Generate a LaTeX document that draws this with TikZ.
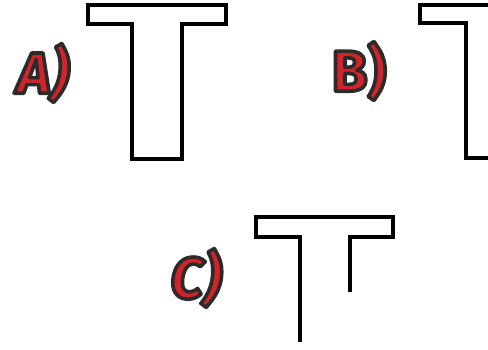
\documentclass[tikz,border=0pt]{standalone}
\usepackage{fontspec}
\usepackage{xcolor}
\usepackage{tikz}
\newfontfamily\handfont{Fira Sans}
\definecolor{markRed}{HTML}{D2232A}
\definecolor{markEdge}{HTML}{2B2B2B}
% red letters with a dark edge (text render mode 2: fill and stroke)
\newcommand{\marklabel}[1]{\textcolor{markRed}{\special{pdf:literal direct 2 Tr 3.6 w 1 j 0.17 0.17 0.17 RG}#1\special{pdf:literal direct 0 Tr}}}
\tikzset{
  tshape/.style={draw=black, line width=3.2pt, line join=miter},
  marktag/.style={font=\handfont\bfseries\fontsize{58}{58}\selectfont, inner sep=0pt},
  slanttag/.style={marktag, font=\handfont\bfseries\itshape\fontsize{58}{58}\selectfont}
}

\begin{document}
\begin{tikzpicture}[x=1pt,y=-1pt]
\useasboundingbox (0,0) rectangle (488,349);
\clip (0,0) rectangle (488,349);
% labels
\node[slanttag] (labA) at (43,73) {\marklabel{A)}};
\node[marktag] (labB) at (359,71) {\marklabel{B)}};
\node[slanttag] (labC) at (196,278) {\marklabel{C)}};
% A: full T
\draw[tshape] (88,5) -- (226,5) -- (226,24) -- (182,24) -- (182,159) -- (132,159) -- (132,24) -- (88,24) -- cycle;
% B: T running off the right edge
\draw[tshape] (420,5) -- (558,5) -- (558,23) -- (512,23) -- (512,158) -- (466,158) -- (466,23) -- (420,23) -- cycle;
% C: open T
\draw[tshape] (300,342) -- (300,237) -- (256,237) -- (256,217) -- (393,217) -- (393,237) -- (350,237) -- (350,292);
\end{tikzpicture}
\end{document}
